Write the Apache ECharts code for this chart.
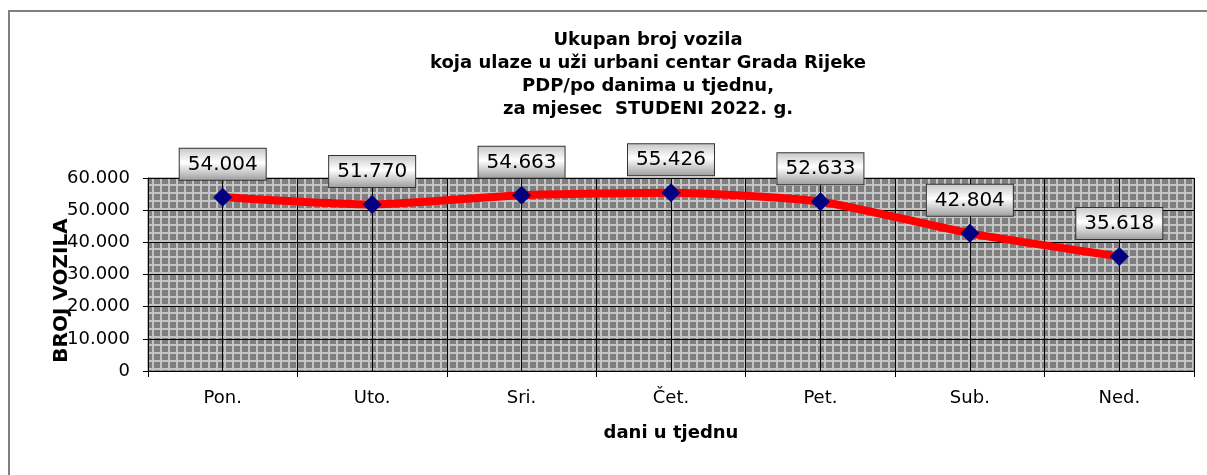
<!DOCTYPE html>
<html>
<head>
<meta charset="utf-8">
<script src="https://cdn.jsdelivr.net/npm/echarts@6/dist/echarts.min.js"></script>
<style>
html,body{margin:0;padding:0;background:#fff;}
#chart{width:1207px;height:475px;}
</style>
</head>
<body>
<div id="chart"></div>
<script>
const categories = ['Pon.', 'Uto.', 'Sri.', 'Čet.', 'Pet.', 'Sub.', 'Ned.'];
const vehicles = [54004, 51770, 54663, 55426, 52633, 42804, 35618];
const titleText = 'Ukupan broj vozila\nkoja ulaze u uži urbani centar Grada Rijeke\nPDP/po danima u tjednu,\nza mjesec  STUDENI 2022. g.';
const yName = 'BROJ VOZILA';
const xName = 'dani u tjednu';

function fmt(v) {
  return String(v).replace(/\B(?=(\d{3})+(?!\d))/g, '.');
}

const pc = document.createElement('canvas');
pc.width = 8; pc.height = 8;
const ctx = pc.getContext('2d');
ctx.fillStyle = '#c4c4c4';
ctx.fillRect(0, 0, 8, 8);
ctx.fillStyle = '#7f7f7f';
ctx.fillRect(2, 2, 6, 6);

const chart = echarts.init(document.getElementById('chart'), null, {renderer: 'canvas'});
const FONT = 'DejaVu Sans';
chart.setOption({
  animation: false,
  backgroundColor: '#ffffff',
  title: {
    text: titleText,
    left: 643,
    top: 24,
    textAlign: 'center',
    textStyle: {fontFamily: FONT, fontWeight: 'bold', fontSize: 18, lineHeight: 23, color: '#000'}
  },
  graphic: [{
    type: 'rect',
    shape: {x: 9, y: 11, width: 1400, height: 700},
    style: {fill: 'none', stroke: '#808080', lineWidth: 2},
    z: -10
  }],
  grid: {
    left: 148, top: 178, width: 1046, height: 193,
    show: true,
    backgroundColor: {image: pc, repeat: 'repeat'},
    borderColor: '#808080', borderWidth: 1
  },
  xAxis: [{
    type: 'category',
    data: categories,
    boundaryGap: true,
    name: xName,
    nameLocation: 'middle',
    nameGap: 53,
    nameMoveOverlap: false,
    nameTextStyle: {fontFamily: FONT, fontWeight: 'bold', fontSize: 18, color: '#000'},
    axisLine: {show: true, lineStyle: {color: '#000', width: 1}},
    axisTick: {show: true, length: 6, lineStyle: {color: '#000'}},
    axisLabel: {fontFamily: FONT, fontSize: 18, color: '#000', margin: 18},
    splitLine: {show: false}
  }, {
    type: 'value',
    min: 0, max: 14, interval: 1,
    position: 'top',
    axisLine: {show: false}, axisTick: {show: false}, axisLabel: {show: false},
    splitLine: {show: true, lineStyle: {color: '#000', width: 1}}
  }],
  yAxis: {
    type: 'value',
    min: 0, max: 60000, interval: 10000,
    name: yName,
    nameLocation: 'middle',
    nameRotate: 90,
    nameGap: 76,
    nameMoveOverlap: false,
    nameTextStyle: {fontFamily: FONT, fontWeight: 'bold', fontSize: 20, color: '#000', padding: [0, 32, 0, 0]},
    axisLine: {show: true, lineStyle: {color: '#000', width: 1}},
    axisTick: {show: true, length: 5, lineStyle: {color: '#000'}},
    axisLabel: {fontFamily: FONT, fontSize: 18, color: '#000', margin: 18, formatter: v => fmt(v)},
    splitLine: {show: true, lineStyle: {color: '#000', width: 1}}
  },
  series: [{
    type: 'line',
    data: vehicles,
    xAxisIndex: 0,
    smooth: 0.2,
    symbol: 'diamond',
    symbolSize: 19,
    itemStyle: {color: '#000080'},
    lineStyle: {color: '#ff0000', width: 8},
    z: 5,
    label: {
      show: true,
      position: 'top',
      distance: 8,
      formatter: p => fmt(p.value),
      fontFamily: FONT,
      fontSize: 20,
      color: '#000',
      padding: [6, 8, 5, 8],
      borderColor: '#333',
      borderWidth: 1,
      backgroundColor: new echarts.graphic.LinearGradient(0, 0, 0, 1, [
        {offset: 0, color: '#c6c6c6'},
        {offset: 0.45, color: '#ffffff'},
        {offset: 1, color: '#9c9c9c'}
      ])
    }
  }]
});
</script>
</body>
</html>
